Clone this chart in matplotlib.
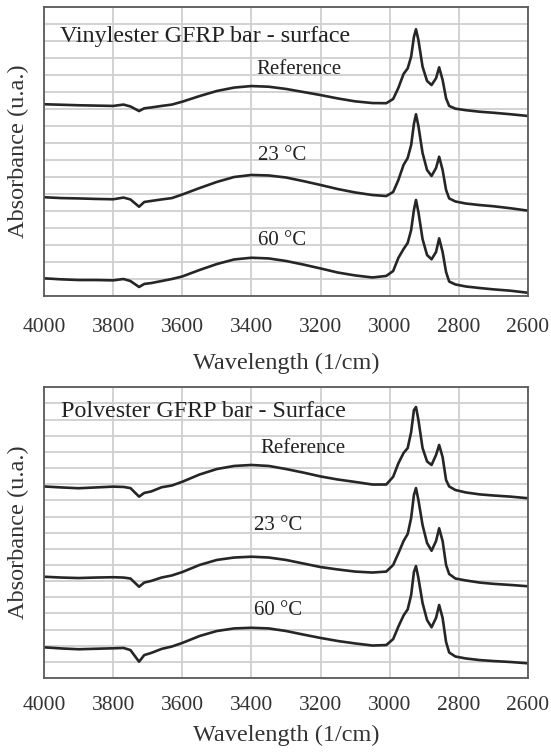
import matplotlib.pyplot as plt

# wavenumber grid shared by all curves (1/cm)
wn = [4000, 3950, 3900, 3850, 3800, 3770, 3750, 3725, 3710, 3690, 3660, 3630,
      3600, 3550, 3500, 3450, 3400, 3350, 3300, 3250, 3200, 3150, 3100, 3050,
      3010, 2990, 2975, 2960, 2948, 2938, 2930, 2924, 2917, 2905, 2892, 2879,
      2866, 2857, 2847, 2837, 2828, 2810, 2780, 2740, 2700, 2650, 2600]

# Vinylester - surface (arbitrary absorbance units, stacked)
vin_ref = [11.28, 11.25, 11.22, 11.20, 11.18, 11.26, 11.15, 10.88, 11.04, 11.09, 11.18, 11.26,
           11.43, 11.76, 12.06, 12.26, 12.35, 12.31, 12.18, 12.00, 11.82, 11.62, 11.45, 11.35,
           11.34, 11.59, 12.24, 13.06, 13.39, 14.08, 15.24, 15.69, 15.06, 13.49, 12.65, 12.41,
           12.81, 13.45, 12.71, 11.63, 11.18, 11.02, 10.93, 10.84, 10.78, 10.69, 10.59]
vin_23 = [5.81, 5.76, 5.74, 5.71, 5.69, 5.79, 5.68, 5.25, 5.53, 5.59, 5.68, 5.76,
          5.97, 6.35, 6.71, 7.00, 7.12, 7.09, 6.97, 6.76, 6.53, 6.29, 6.09, 5.94,
          5.88, 6.12, 6.82, 7.71, 8.12, 8.88, 10.12, 10.69, 10.00, 8.41, 7.41, 7.06,
          7.53, 8.19, 7.41, 6.24, 5.74, 5.56, 5.44, 5.35, 5.28, 5.16, 5.02]
vin_60 = [1.04, 0.98, 0.94, 0.94, 0.92, 1.00, 0.88, 0.53, 0.71, 0.76, 0.88, 1.00,
          1.15, 1.53, 1.88, 2.15, 2.25, 2.21, 2.06, 1.85, 1.62, 1.38, 1.21, 1.09,
          1.18, 1.47, 2.24, 2.76, 3.12, 3.88, 5.06, 5.65, 4.94, 3.35, 2.41, 2.16,
          2.59, 3.39, 2.59, 1.41, 0.85, 0.68, 0.56, 0.47, 0.39, 0.31, 0.19]

# Polyester - surface
pol_ref = [11.86, 11.80, 11.75, 11.80, 11.85, 11.83, 11.76, 11.23, 11.46, 11.55, 11.81, 11.92,
           12.15, 12.60, 12.94, 13.13, 13.19, 13.13, 12.94, 12.72, 12.48, 12.29, 12.14, 11.98,
           11.98, 12.46, 13.29, 13.93, 14.24, 15.23, 16.59, 16.78, 15.98, 14.24, 13.41, 13.19,
           13.81, 14.43, 13.68, 12.26, 11.86, 11.64, 11.49, 11.37, 11.30, 11.23, 11.13]
pol_23 = [6.27, 6.22, 6.19, 6.22, 6.24, 6.22, 6.16, 5.65, 5.91, 6.01, 6.22, 6.35,
          6.56, 7.00, 7.31, 7.46, 7.51, 7.46, 7.31, 7.09, 6.87, 6.72, 6.59, 6.53,
          6.59, 7.00, 7.72, 8.48, 8.92, 9.91, 11.33, 11.76, 11.02, 9.47, 8.36, 7.88,
          8.48, 9.27, 8.48, 7.00, 6.44, 6.16, 6.04, 5.91, 5.83, 5.76, 5.68]
pol_60 = [1.90, 1.83, 1.78, 1.81, 1.84, 1.86, 1.73, 1.01, 1.42, 1.55, 1.80, 1.95,
          2.17, 2.60, 2.91, 3.07, 3.11, 3.07, 2.91, 2.69, 2.48, 2.29, 2.14, 2.01,
          2.04, 2.41, 3.18, 3.87, 4.25, 5.14, 6.56, 6.93, 6.19, 4.64, 3.59, 3.14,
          3.72, 4.52, 3.72, 2.23, 1.58, 1.33, 1.21, 1.11, 1.05, 0.99, 0.91]

xticks = [4000, 3800, 3600, 3400, 3200, 3000, 2800, 2600]
series_labels = ["Reference", "23 °C", "60 °C"]

plt.rcParams['font.family'] = ['Liberation Serif', 'DejaVu Serif']

fig = plt.figure(figsize=(5.51, 7.53), dpi=100)
ax1 = fig.add_axes([44/551, 1 - 296/753, 484/551, 289/753])
ax2 = fig.add_axes([44/551, 1 - 678/753, 484/551, 290.7/753])

panels = [
    (ax1, "Vinylester GFRP bar - surface", [vin_ref, vin_23, vin_60], 17,
     (3954, 15.25), [(3262, 13.35), (3312, 8.29), (3312, 3.24)], 15.5, 12),
    (ax2, "Polvester GFRP bar - Surface", [pol_ref, pol_23, pol_60], 18,
     (3951, 16.49), [(3251, 14.24), (3322, 9.47), (3322, 4.21)], 13, 7),
]

for ax, title, curves, ntop, tpos, lpos, tpad, lpad in panels:
    for y in curves:
        ax.plot(wn, y, color="#262626", linewidth=1.9, solid_joinstyle="round")
    ax.set_xlim(4000, 2600)
    ax.set_ylim(0, ntop)
    ax.set_xticks(xticks)
    ax.set_yticks(range(ntop + 1))
    ax.set_yticklabels([])
    ax.grid(True, color="#cfcfcf", linewidth=1.3)
    ax.set_axisbelow(True)
    ax.tick_params(length=0, labelsize=15.5, pad=tpad, labelcolor="#333333")
    for sp in ax.spines.values():
        sp.set_color("#5a5a5a")
        sp.set_linewidth(1.3)
    ax.set_xlabel("Wavelength (1/cm)", fontsize=17.5, color="#333333", labelpad=lpad)
    ax.set_ylabel("Absorbance (u.a.)", fontsize=17.5, color="#333333")
    ax.yaxis.set_label_coords(-0.03, 0.5)
    ax.text(tpos[0], tpos[1], title, fontsize=17.3, ha="left", va="center", color="#222222")
    for (x, y), s in zip(lpos, series_labels):
        ax.text(x, y, s, fontsize=15, ha="center", va="center", color="#222222")

fig.savefig("out.png", dpi=100)
